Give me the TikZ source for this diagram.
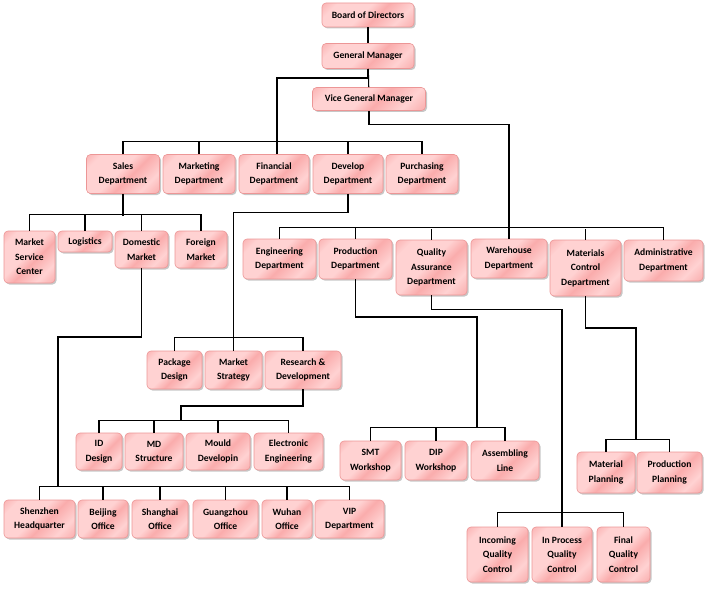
\documentclass[tikz,border=0pt]{standalone}
\usepackage{fontspec}
\setmainfont{Carlito}
\usepackage{tikz}
\usetikzlibrary{shadows,calc}
\definecolor{pinklight}{RGB}{255,210,210}
\definecolor{pinkmid}{RGB}{250,172,172}
\definecolor{salmon}{RGB}{243,132,132}
\definecolor{boxline}{RGB}{236,150,150}
\pgfdeclarehorizontalshading{boxfill}{100bp}{color(0bp)=(salmon); color(28bp)=(pinklight); color(44bp)=(pinkmid); color(54bp)=(pinklight); color(76bp)=(pinklight); color(100bp)=(salmon)}

\begin{document}
\begin{tikzpicture}[x=1pt, y=-1pt,
    box/.style={rectangle, rounded corners=4pt, draw=boxline, line width=0.6pt,
                shading=boxfill, shading angle=135, align=center, inner sep=1pt,
                font=\fontsize{9.6}{14.5}\selectfont\bfseries,
                drop shadow={shadow xshift=1.5pt, shadow yshift=-1.5pt, fill=black!40, opacity=0.55}},
    link/.style={draw=black, line width=1.1pt}]

    \useasboundingbox (0,0) rectangle (708,588);

    % Top
    \node[box, minimum width=92, minimum height=24] (bod) at (368,15) {Board of Directors};
    \node[box, minimum width=92, minimum height=25] (gm) at (368,56) {General Manager};
    \node[box, minimum width=113, minimum height=23] (vgm) at (369,99) {Vice General Manager};
    % Departments
    \node[box, minimum width=73, minimum height=39] (sales) at (123,174) {Sales\\Department};
    \node[box, minimum width=72, minimum height=39] (mkt) at (199,174) {Marketing\\Department};
    \node[box, minimum width=70, minimum height=39] (fin) at (274,174) {Financial\\Department};
    \node[box, minimum width=70, minimum height=39] (dev) at (348,174) {Develop\\Department};
    \node[box, minimum width=72, minimum height=39] (pur) at (422,174) {Purchasing\\Department};
    % Sales
    \node[box, minimum width=51, minimum height=52] (msc) at (29.5,257) {Market\\Service\\Center};
    \node[box, minimum width=54, minimum height=21] (log) at (85,241.5) {Logistics};
    \node[box, minimum width=53, minimum height=37] (dom) at (141.5,249.5) {Domestic\\Market};
    \node[box, minimum width=52, minimum height=37] (for) at (201,249.5) {Foreign\\Market};
    % Vice GM
    \node[box, minimum width=73, minimum height=40] (eng) at (279.5,259) {Engineering\\Department};
    \node[box, minimum width=73, minimum height=40] (prod) at (355.5,259) {Production\\Department};
    \node[box, minimum width=71, minimum height=55] (qa) at (431.5,267.5) {Quality\\Assurance\\Department};
    \node[box, minimum width=76, minimum height=39] (wh) at (509,258.5) {Warehouse\\Department};
    \node[box, minimum width=71, minimum height=56] (mc) at (585.5,268) {Materials\\Control\\Department};
    \node[box, minimum width=79, minimum height=41] (adm) at (663.5,260.5) {Administrative\\Department};
    % Develop
    \node[box, minimum width=55, minimum height=38] (pkg) at (174.5,370) {Package\\Design};
    \node[box, minimum width=57, minimum height=38] (mst) at (233.5,370) {Market\\Strategy};
    \node[box, minimum width=76, minimum height=38] (rnd) at (303,370) {Research \&\\Development};
    % R&D
    \node[box, minimum width=46, minimum height=37] (id) at (99,451.5) {ID\\Design};
    \node[box, minimum width=58, minimum height=37] (md) at (154,451.5) {MD\\Structure};
    \node[box, minimum width=64, minimum height=37] (mould) at (218,451.5) {Mould\\Developin};
    \node[box, minimum width=69, minimum height=37] (elec) at (288.5,451.5) {Electronic\\Engineering};
    % Production
    \node[box, minimum width=61, minimum height=39] (smt) at (370.5,460.5) {SMT\\Workshop};
    \node[box, minimum width=62, minimum height=39] (dip) at (436,460.5) {DIP\\Workshop};
    \node[box, minimum width=68, minimum height=39] (asm) at (505,460.5) {Assembling\\Line};
    % Materials control
    \node[box, minimum width=58, minimum height=41] (mp) at (606,472.5) {Material\\Planning};
    \node[box, minimum width=65, minimum height=41] (pp) at (669.5,472.5) {Production\\Planning};
    % Domestic market
    \node[box, minimum width=71, minimum height=38] (shz) at (39.5,519) {Shenzhen\\Headquarter};
    \node[box, minimum width=50, minimum height=38] (bei) at (103,519) {Beijing\\Office};
    \node[box, minimum width=56, minimum height=38] (sha) at (160,519) {Shanghai\\Office};
    \node[box, minimum width=65, minimum height=38] (gz) at (225.5,519) {Guangzhou\\Office};
    \node[box, minimum width=50, minimum height=38] (wu) at (287,519) {Wuhan\\Office};
    \node[box, minimum width=69, minimum height=38] (vip) at (349.5,519) {VIP\\Department};
    % Quality assurance
    \node[box, minimum width=61, minimum height=55] (inc) at (497.5,554.5) {Incoming\\Quality\\Control};
    \node[box, minimum width=60, minimum height=55] (inp) at (562,554.5) {In Process\\Quality\\Control};
    \node[box, minimum width=53, minimum height=55] (fqc) at (623.5,554.5) {Final\\Quality\\Control};

    \coordinate (j1) at (277,78);
    \coordinate (j2) at (181,406);
    \coordinate (j3) at (58,337);
    \coordinate (j4) at (477,317);
    \coordinate (j5) at (636,328);

    \draw[link] (bod) -- (gm);
    \draw[link] (gm) -- (vgm);
    \draw[link] (gm.south) |- (j1) -- (j1 |- fin.north);
    \draw[link] (sales.north) -- ++(0,-13) -| (pur.north);
    \foreach \n in {mkt,dev} \draw[link] (\n.north) -- ++(0,-13);

    \draw[link] (sales.south) -- ++(0,22);
    \draw[link] (msc.north) -- ++(0,-16) -| (for.north);
    \foreach \n in {log,dom} \draw[link] (\n.north) -- ++(0,-16);

    \draw[link] (vgm.south) -- ++(0,14) -| (wh.north);
    \draw[link] (eng.north) -- ++(0,-11) -| (adm.north);
    \foreach \n in {prod,qa,mc} \draw[link] (\n.north) -- ++(0,-11);

    \draw[link] (dev.south) -- ++(0,19) -| (mst.north);
    \draw[link] (pkg.north) -- ++(0,-13) -| (rnd.north);

    \draw[link] (rnd.south) |- (j2) -- ++(0,15);
    \draw[link] (id.north) -- ++(0,-12) -| (elec.north);
    \foreach \n in {md,mould} \draw[link] (\n.north) -- ++(0,-12);

    \draw[link] (dom.south) |- (j3) -- ++(0,150);
    \draw[link] (shz.north) -- ++(0,-13) -| (vip.north);
    \foreach \n in {bei,sha,gz,wu} \draw[link] (\n.north) -- ++(0,-13);

    \draw[link] (prod.south) |- (j4) -- ++(0,111);
    \draw[link] (smt.north) -- ++(0,-13) -| (asm.north);
    \draw[link] (dip.north) -- ++(0,-13);

    \draw[link] (qa.south) -- ++(0,14) -| (inp.north);
    \draw[link] (inc.north) -- ++(0,-14) -| (fqc.north);

    \draw[link] (mc.south) |- (j5) -- ++(0,112);
    \draw[link] (mp.north) -- ++(0,-12) -| (pp.north);
\end{tikzpicture}
\end{document}
